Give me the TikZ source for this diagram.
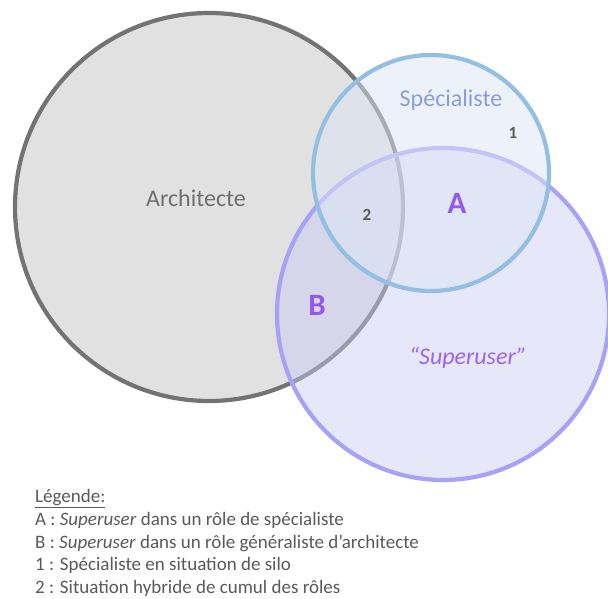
\documentclass[tikz,border=0pt]{standalone}
\usepackage{fontspec}
\setmainfont{Carlito}
\definecolor{archline}{HTML}{737373}
\definecolor{archfill}{HTML}{E1E1E1}
\definecolor{specline}{HTML}{92BFE2}
\definecolor{specfill}{HTML}{DCE6F6}
\definecolor{superline}{HTML}{A8A2F7}
\definecolor{superfill}{HTML}{CACAF6}
\definecolor{purpletext}{HTML}{9458F0}
\definecolor{supertext}{HTML}{9A66F0}
\definecolor{spectext}{HTML}{8B9CDA}
\definecolor{graytext}{HTML}{6F6F6F}
\definecolor{numtext}{HTML}{5A5A5A}
\definecolor{legendtext}{HTML}{5A5A5A}
\tikzset{
  setline/.style={line width=4.2pt},
  setname/.style={font=\fontsize{24}{28}\selectfont, anchor=base, inner sep=0pt},
  zoneletter/.style={font=\fontsize{31}{36}\selectfont\bfseries, text=purpletext, anchor=base, inner sep=0pt},
  zonenumber/.style={font=\fontsize{17}{20}\selectfont\bfseries, text=numtext, anchor=base, inner sep=0pt},
  legendline/.style={font=\fontsize{19}{23}\selectfont, text=legendtext, anchor=base west, inner sep=0pt}
}
\begin{document}
\begin{tikzpicture}[x=1pt,y=-1pt]
  \useasboundingbox[fill=white] (0,0) rectangle (608,599);

  % the three sets, drawn back to front
  \draw[setline, draw=archline, fill=archfill] (209,207) circle [radius=194pt];
  \draw[setline, draw=superline, fill=superfill, fill opacity=0.45] (443,314) circle [radius=166pt];
  \draw[setline, draw=specline, fill=specfill, fill opacity=0.5] (431,173) circle [radius=118pt];

  % set names
  \node[setname, text=graytext] (archname) at (196,206.5) {Architecte};
  \node[setname, text=spectext] (specname) at (451,106.5) {Spécialiste};
  \node[setname, text=supertext] (supername) at (468,364) {\itshape “Superuser”};

  % zone markers
  \node[zoneletter] (zoneA) at (457,214) {A};
  \node[zoneletter] (zoneB) at (317,315) {B};
  \node[zonenumber] (zone1) at (513,138.5) {1};
  \node[zonenumber] (zone2) at (367,220.5) {2};

  % legend
  \node[legendline] (leg0) at (35,502.5) {\underline{Légende:}};
  \node[legendline] (legA) at (35,525.3) {A : \textit{Superuser} dans un rôle de spécialiste};
  \node[legendline] (legB) at (35,548.1) {B : \textit{Superuser} dans un rôle généraliste d’architecte};
  \node[legendline] (leg1) at (35,570.9) {1 : Spécialiste en situation de silo};
  \node[legendline] (leg2) at (35,593.7) {2 : Situation hybride de cumul des rôles};
\end{tikzpicture}
\end{document}
